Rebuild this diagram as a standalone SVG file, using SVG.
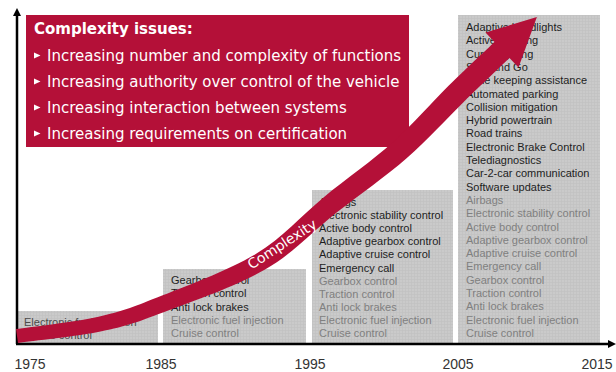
<svg xmlns="http://www.w3.org/2000/svg" width="616" height="372" viewBox="0 0 616 372">
<style>
.t{font-family:"Liberation Sans",Arial,sans-serif;font-size:11px}
.d{fill:#1e1e1e}
.g{fill:#808080}
.yr{font-family:"Liberation Sans",Arial,sans-serif;font-size:14px;fill:#333;text-anchor:middle}
.w{font-family:"DejaVu Sans",Verdana,sans-serif;font-size:15px;fill:#fff}
.box{fill:url(#grid)}
.red{fill:#b41038}
</style>
<defs>
<pattern id="grid" width="3" height="3" patternUnits="userSpaceOnUse">
<rect width="3" height="3" fill="#cacaca"/>
<rect width="3" height="0.6" fill="#c1c1c1"/>
<rect width="0.6" height="3" fill="#c1c1c1"/>
</pattern>
<polygon id="bul" points="0,-8.5 6.5,-5.5 0,-2.5" fill="#fff"/>
</defs>
<rect width="616" height="372" fill="#fff"/>

<g id="box-1975">
<rect class="box" x="18" y="311" width="140" height="32"/>
<text class="t" fill="#4a4a4a" x="24" y="326">Electronic fuel injection</text>
<text class="t" fill="#4a4a4a" x="24" y="338.5">Cruise control</text>
</g>

<g id="box-1985">
<rect class="box" x="163" y="269" width="143" height="74"/>
<text class="t d" x="171" y="284">Gearbox control</text>
<text class="t d" x="171" y="297.3">Traction control</text>
<text class="t d" x="171" y="310.6">Anti lock brakes</text>
<text class="t g" x="171" y="323.9">Electronic fuel injection</text>
<text class="t g" x="171" y="337.2">Cruise control</text>
</g>

<g id="box-1995">
<rect class="box" x="312" y="190" width="141" height="153"/>
<text class="t d" x="319" y="206">Airbags</text>
<text class="t d" x="319" y="219.1">Electronic stability control</text>
<text class="t d" x="319" y="232.2">Active body control</text>
<text class="t d" x="319" y="245.3">Adaptive gearbox control</text>
<text class="t d" x="319" y="258.4">Adaptive cruise control</text>
<text class="t d" x="319" y="271.5">Emergency call</text>
<text class="t g" x="319" y="284.6">Gearbox control</text>
<text class="t g" x="319" y="297.7">Traction control</text>
<text class="t g" x="319" y="310.8">Anti lock brakes</text>
<text class="t g" x="319" y="323.9">Electronic fuel injection</text>
<text class="t g" x="319" y="337">Cruise control</text>
</g>

<g id="box-2005">
<rect class="box" x="458" y="15" width="142" height="328"/>
<text class="t d" x="466" y="31">Adaptive headlights</text>
<text class="t d" x="466" y="44.3">Active steering</text>
<text class="t d" x="466" y="57.6">Curve lighting</text>
<text class="t d" x="466" y="70.9">Stop and Go</text>
<text class="t d" x="466" y="84.2">Lane keeping assistance</text>
<text class="t d" x="466" y="97.5">Automated parking</text>
<text class="t d" x="466" y="110.8">Collision mitigation</text>
<text class="t d" x="466" y="124.1">Hybrid powertrain</text>
<text class="t d" x="466" y="137.4">Road trains</text>
<text class="t d" x="466" y="150.7">Electronic Brake Control</text>
<text class="t d" x="466" y="164">Telediagnostics</text>
<text class="t d" x="466" y="177.3">Car-2-car communication</text>
<text class="t d" x="466" y="190.6">Software updates</text>
<text class="t g" x="466" y="203.9">Airbags</text>
<text class="t g" x="466" y="217.2">Electronic stability control</text>
<text class="t g" x="466" y="230.5">Active body control</text>
<text class="t g" x="466" y="243.8">Adaptive gearbox control</text>
<text class="t g" x="466" y="257.1">Adaptive cruise control</text>
<text class="t g" x="466" y="270.4">Emergency call</text>
<text class="t g" x="466" y="283.7">Gearbox control</text>
<text class="t g" x="466" y="297">Traction control</text>
<text class="t g" x="466" y="310.3">Anti lock brakes</text>
<text class="t g" x="466" y="323.6">Electronic fuel injection</text>
<text class="t g" x="466" y="336.9">Cruise control</text>
</g>

<g id="issues">
<rect class="red" x="26" y="15" width="383" height="132"/>
<text class="w" x="34" y="34" font-weight="bold">Complexity issues:</text>
<use href="#bul" x="34" y="61"/>
<text class="w" x="47" y="61">Increasing number and complexity of functions</text>
<use href="#bul" x="34" y="87"/>
<text class="w" x="47" y="87">Increasing authority over control of the vehicle</text>
<use href="#bul" x="34" y="113"/>
<text class="w" x="47" y="113">Increasing interaction between systems</text>
<use href="#bul" x="34" y="139"/>
<text class="w" x="47" y="139">Increasing requirements on certification</text>
</g>

<g id="connectors">
<g id="axes" fill="#000">
<line x1="17" y1="344" x2="17" y2="14" stroke="#000" stroke-width="2.5"/>
<polygon points="17,8 13,16 21,16"/>
<line x1="16" y1="344" x2="610" y2="344" stroke="#000" stroke-width="2.5"/>
<polygon points="616,344 608,340 608,348"/>
</g>
<g id="complexity-arrow">
<path class="red" d="M16,329.1 C29.7,327 74.9,322 98.4,316.7 C121.9,311.4 130.9,307.9 157.1,297.5 C183.3,287.1 227.6,270.9 255.4,254.2 C283.2,237.5 300.9,215.9 323.8,197.2 C346.8,178.5 372.4,160.6 393.1,142.1 C413.9,123.6 431.4,102.8 448.3,86.1 C465.2,69.4 486.8,49.4 494.5,42 L485.5,32.5 L536.9,17.1 L518.5,67.5 L509.5,58 C501.9,65.3 480.8,85.3 463.7,101.9 C446.6,118.6 428.1,139.4 406.9,157.9 C385.7,176.4 360,194.2 336.3,212.8 C312.6,231.5 293.5,253.2 264.6,269.8 C235.7,286.4 190.1,302.3 162.9,312.5 C135.7,322.8 125.8,326.2 101.6,331.3 C77.5,336.4 31.9,341 18,342.9 Z"/>
<text x="282" y="244" dy="5" transform="rotate(-33 282 244)" font-family="'DejaVu Sans',Verdana,sans-serif" font-size="14" fill="#fff" text-anchor="middle">Complexity</text>
</g>
</g>

<g id="years">
<text class="yr" x="30" y="369">1975</text>
<text class="yr" x="161" y="369">1985</text>
<text class="yr" x="310" y="369">1995</text>
<text class="yr" x="458" y="369">2005</text>
<text class="yr" x="597" y="369">2015</text>
</g>
</svg>
